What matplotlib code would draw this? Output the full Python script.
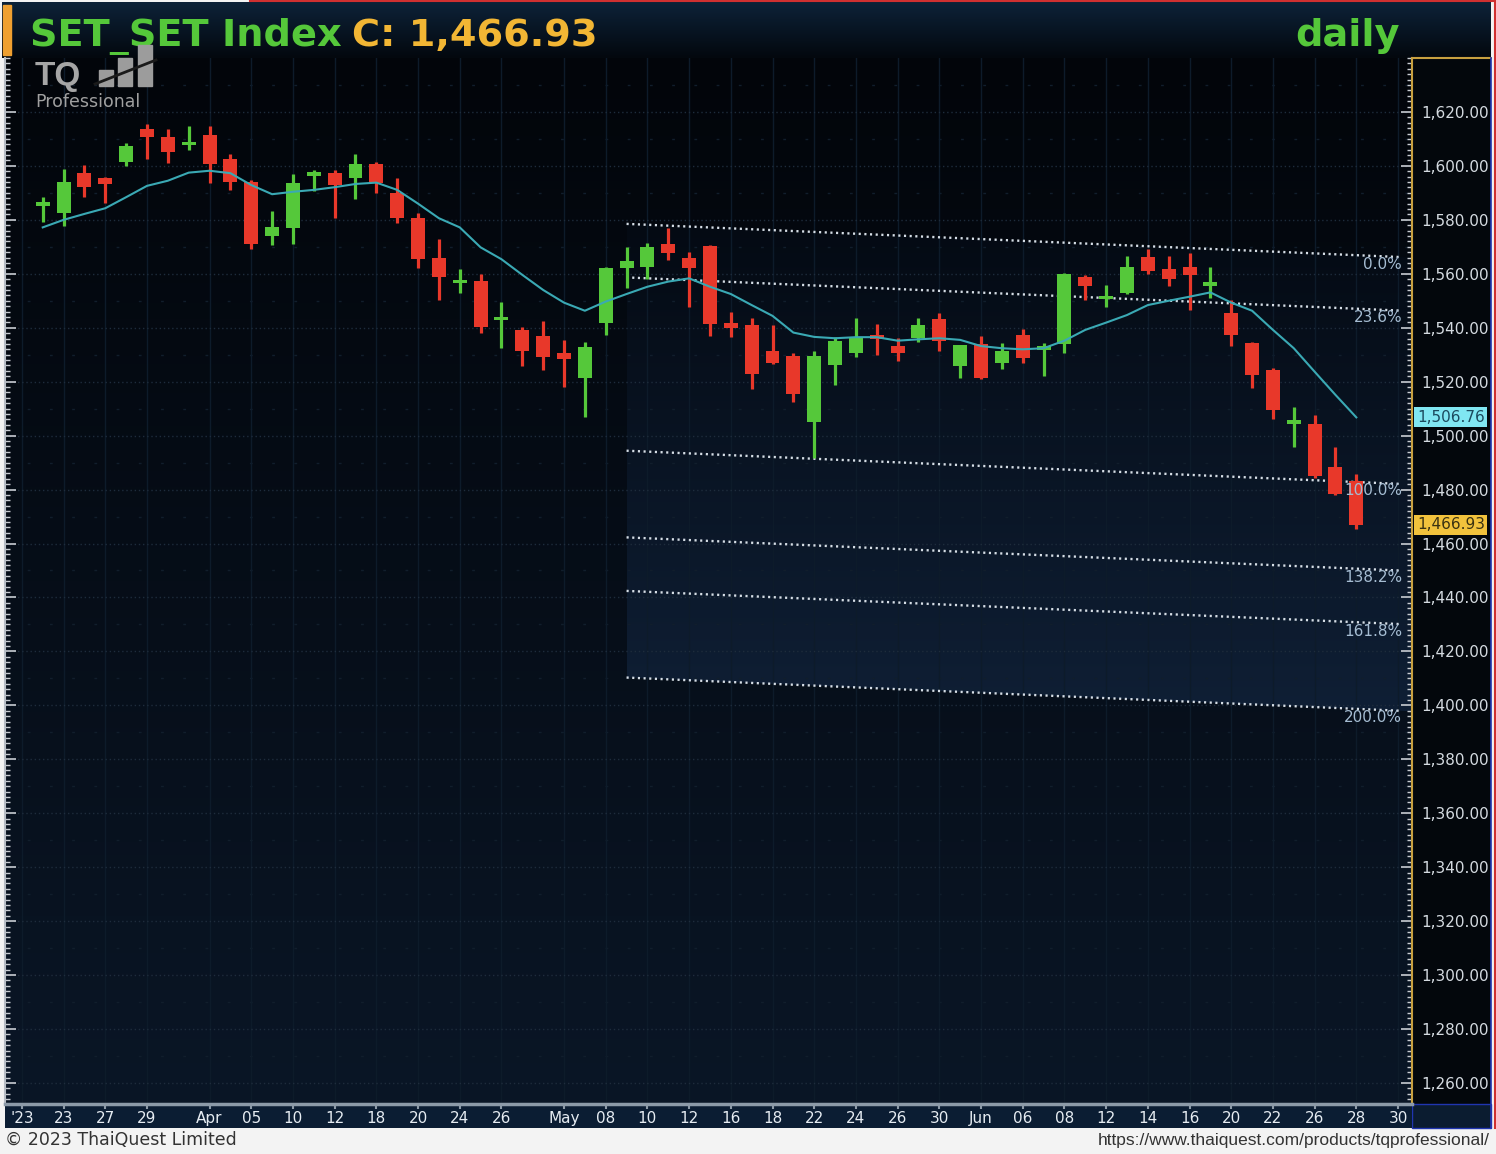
import matplotlib
matplotlib.use('Agg')
import matplotlib.pyplot as plt
import matplotlib.transforms as mtransforms
from matplotlib.colors import LinearSegmentedColormap
from matplotlib.patches import Rectangle, Polygon
from matplotlib.lines import Line2D
from matplotlib.ticker import MultipleLocator, StrMethodFormatter
import numpy as np

# daily OHLC, 22 Mar - 28 Jun 2023
opens = [1585.3, 1582.7, 1597.3, 1595.4, 1601.6, 1613.6, 1610.8, 1607.8, 1611.5, 1602.5,
         1594.2, 1574.0, 1576.9, 1596.4, 1597.3, 1595.5, 1600.6, 1589.9, 1580.6, 1565.8,
         1556.5, 1557.4, 1542.9, 1539.2, 1536.9, 1530.5, 1521.3, 1541.9, 1562.0, 1562.6,
         1571.1, 1565.8, 1570.3, 1541.7, 1541.0, 1531.5, 1529.5, 1505.2, 1526.2, 1530.8,
         1537.3, 1533.2, 1536.1, 1543.1, 1525.8, 1534.0, 1527.1, 1537.3, 1531.8, 1534.0,
         1558.7, 1550.6, 1553.0, 1566.1, 1561.7, 1562.6, 1555.3, 1545.6, 1534.5, 1524.3,
         1504.3, 1504.3, 1488.3, 1483.3]
highs = [1588.4, 1598.8, 1600.3, 1596.0, 1608.4, 1615.6, 1613.6, 1614.8, 1614.8, 1604.4,
         1594.8, 1583.4, 1597.0, 1598.5, 1598.5, 1604.4, 1601.6, 1595.5, 1582.4, 1572.8,
         1561.7, 1559.9, 1549.7, 1540.2, 1542.6, 1535.5, 1534.8, 1562.6, 1569.8, 1571.3,
         1576.9, 1568.2, 1570.7, 1546.0, 1543.5, 1541.0, 1530.5, 1531.2, 1536.7, 1543.5,
         1541.4, 1536.1, 1543.5, 1545.6, 1533.6, 1536.9, 1534.5, 1539.4, 1534.5, 1560.2,
         1559.6, 1555.9, 1566.6, 1569.1, 1566.6, 1567.8, 1562.6, 1550.3, 1534.8, 1525.0,
         1510.5, 1507.7, 1495.9, 1485.8]
lows = [1579.3, 1577.8, 1588.4, 1586.4, 1600.0, 1602.5, 1601.2, 1605.9, 1593.8, 1591.1,
        1569.1, 1570.7, 1571.1, 1590.8, 1580.6, 1587.6, 1589.9, 1579.0, 1562.1, 1550.1,
        1553.0, 1538.2, 1532.4, 1525.8, 1524.3, 1517.9, 1507.0, 1537.3, 1554.7, 1558.0,
        1565.1, 1547.8, 1536.9, 1536.5, 1517.2, 1526.5, 1512.6, 1491.6, 1518.8, 1529.3,
        1529.9, 1527.5, 1534.8, 1531.5, 1521.3, 1520.9, 1524.6, 1526.9, 1522.1, 1530.8,
        1550.1, 1547.6, 1552.6, 1559.9, 1555.5, 1546.6, 1551.0, 1533.2, 1517.6, 1506.1,
        1495.7, 1484.2, 1478.0, 1465.3]
closes = [1586.3, 1593.9, 1592.1, 1593.3, 1607.4, 1610.8, 1605.3, 1609.0, 1600.7, 1594.2,
          1571.1, 1577.5, 1593.8, 1597.5, 1592.9, 1600.6, 1593.8, 1580.6, 1565.4, 1558.7,
          1557.7, 1540.4, 1544.1, 1531.5, 1529.3, 1528.3, 1533.0, 1562.0, 1564.9, 1569.8,
          1567.6, 1562.0, 1541.4, 1539.8, 1522.9, 1526.9, 1515.5, 1529.5, 1535.2, 1536.5,
          1535.7, 1530.8, 1541.0, 1535.2, 1533.6, 1521.3, 1531.2, 1528.7, 1533.2, 1559.9,
          1555.3, 1551.8, 1562.6, 1561.2, 1558.0, 1559.6, 1557.1, 1537.3, 1522.5, 1509.5,
          1505.8, 1485.0, 1478.4, 1466.93]
# moving average line as drawn
ma = [1577.2, 1580.0, 1582.2, 1584.3, 1588.4, 1592.6, 1594.5, 1597.5, 1598.2, 1597.3,
      1592.9, 1589.5, 1590.4, 1591.1, 1592.1, 1593.3, 1593.8, 1591.1, 1586.0, 1580.6,
      1577.2, 1569.8, 1565.4, 1559.6, 1554.0, 1549.3, 1546.3, 1549.7, 1552.5, 1555.2,
      1557.1, 1558.3, 1555.2, 1552.5, 1548.4, 1544.4, 1538.2, 1536.6, 1536.1, 1536.5,
      1536.5, 1535.2, 1535.7, 1536.1, 1535.5, 1533.2, 1532.4, 1532.0, 1532.4, 1535.2,
      1539.2, 1541.9, 1544.7, 1548.4, 1550.0, 1551.5, 1553.1, 1549.3, 1546.3, 1539.2,
      1532.4, 1523.7, 1515.1, 1506.76]

tick_pos = [-1, 1, 3, 5, 8, 10, 12, 14, 16, 18, 20, 22, 25, 27, 29, 31, 33, 35, 37, 39,
            41, 43, 45, 47, 49, 51, 53, 55, 57, 59, 61, 63, 65]
tick_labels = ["'23", "23", "27", "29", "Apr", "05", "10", "12", "18", "20", "24", "26",
               "May", "08", "10", "12", "16", "18", "22", "24", "26", "30", "Jun", "06",
               "08", "12", "14", "16", "20", "22", "26", "28", "30"]

# fibonacci channel anchors (0% and 100% lines, start / end)
fib_x = [28, 65.1]
fib_top = [1578.5, 1566.2]
fib_bot = [1494.4, 1482.1]
fib_levels = [0.0, 23.6, 100.0, 138.2, 161.8, 200.0]

last_close = 1466.93
last_ma = 1506.76

W, H = 1496, 1154
def fx(px):
    return px / W
def fy(py):
    return 1 - py / H

fig = plt.figure(figsize=(W / 100, H / 100), dpi=100)
fig.patch.set_facecolor('#f3f3f3')

green = '#55c83a'
red = '#e8382a'

# title bar
tb = fig.add_axes([fx(2), fy(58), fx(1491) - fx(2), 56 / H])
tb.imshow(np.linspace(0, 1, 64).reshape(-1, 1), aspect='auto', extent=[0, 1, 0, 1],
          cmap=LinearSegmentedColormap.from_list('tb', ['#0d2238', '#03080e']))
tb.set_axis_off()
fig.add_artist(Rectangle((fx(3), fy(55)), fx(8), 50 / H, transform=fig.transFigure,
                         color='#f0a030', zorder=3))
fig.add_artist(Line2D([fx(250), 1], [fy(1), fy(1)], transform=fig.transFigure,
                      color='#d03030', lw=1.5))
fig.add_artist(Line2D([fx(1495), fx(1495)], [fy(0), fy(1128)], transform=fig.transFigure,
                      color='#d03030', lw=1.5))

fig.text(fx(30), fy(46), 'SET_SET Index', fontsize=27.5, weight='bold',
         family='DejaVu Sans', color='#55c83a', va='baseline', zorder=5)
fig.text(fx(352), fy(46), 'C: 1,466.93', fontsize=27.5, weight='bold',
         family='DejaVu Sans', color='#f2b634', va='baseline', zorder=5)
fig.text(fx(1400), fy(46), 'daily', fontsize=27.5, weight='bold', ha='right',
         family='DejaVu Sans', color='#55c83a', va='baseline', zorder=5)

# right price panel background
fig.add_artist(Rectangle((fx(1412), fy(1104)), fx(1491) - fx(1412), (1104 - 58) / H,
                         transform=fig.transFigure, facecolor='#03070c',
                         edgecolor='none', zorder=-1))
fig.add_artist(Rectangle((fx(1412), fy(1128)), fx(1491) - fx(1412), 24 / H,
                         transform=fig.transFigure, facecolor='#0b1c30',
                         edgecolor='#2035b0', lw=1, zorder=-1))
fig.add_artist(Line2D([fx(1412), fx(1491)], [fy(58), fy(58)], transform=fig.transFigure,
                      color='#c8a040', lw=1.5, zorder=6))
fig.add_artist(Line2D([fx(1491), fx(1491)], [fy(58), fy(1128)], transform=fig.transFigure,
                      color='#2035b0', lw=1.2, zorder=6))

# main price axes
ax = fig.add_axes([fx(5), fy(1104), fx(1412) - fx(5), (1104 - 58) / H])
ax.imshow(np.linspace(0, 1, 256).reshape(-1, 1), aspect='auto', extent=[0, 1, 0, 1],
          transform=ax.transAxes, zorder=0,
          cmap=LinearSegmentedColormap.from_list('bg', ['#02050a', '#0a1626']))

x = np.arange(len(closes))

# fibonacci channel
xmax = 65.75
slope_t = (fib_top[1] - fib_top[0]) / (fib_x[1] - fib_x[0])
slope_b = (fib_bot[1] - fib_bot[0]) / (fib_x[1] - fib_x[0])
def top_at(xx):
    return fib_top[0] + slope_t * (xx - fib_x[0])
def bot_at(xx):
    return fib_bot[0] + slope_b * (xx - fib_x[0])
def level_at(lvl, xx):
    return top_at(xx) - lvl / 100.0 * (top_at(xx) - bot_at(xx))

shade = Polygon([(fib_x[0], top_at(fib_x[0])), (xmax, top_at(xmax)),
                 (xmax, level_at(200, xmax)), (fib_x[0], level_at(200, fib_x[0]))],
                closed=True, transform=ax.transData)
im = ax.imshow(np.linspace(0, 1, 256).reshape(-1, 1), aspect='auto',
               extent=[fib_x[0], xmax, level_at(200, xmax), top_at(fib_x[0])],
               cmap=LinearSegmentedColormap.from_list('sh', ['#040a13', '#0f1f35']),
               zorder=0.5)
im.set_clip_path(shade)

for lvl in fib_levels:
    ax.plot(fib_x, [level_at(lvl, fib_x[0]), level_at(lvl, fib_x[1])],
            color='#d6dee6', lw=1.7, linestyle=(0, (0.9, 1.5)), zorder=2)
    ax.annotate('%.1f%%' % lvl, xy=(65.2, level_at(lvl, fib_x[1])), xytext=(0, -7),
                textcoords='offset pixels', ha='right', va='center', fontsize=11,
                color='#a5bcd2', zorder=6)

# candles
for i in x:
    col = green if closes[i] >= opens[i] else red
    ax.vlines(i, lows[i], highs[i], color=col, lw=2.3, zorder=4)
    lo = min(opens[i], closes[i])
    h = max(abs(closes[i] - opens[i]), 1.2)
    ax.bar(i, h, bottom=lo, width=0.67, color=col, edgecolor='none', zorder=4)

ax.plot(x, ma, color='#3aa9b4', lw=1.5, zorder=5)

# axes styling
ax.set_xlim(-1.81, 65.67)
ax.set_ylim(1252.2, 1640.0)
ax.set_xticks(tick_pos)
ax.tick_params(axis='x', length=0, labelbottom=False)
ax.grid(axis='x', color='#0d1b2a', lw=1)
ax.set_yticks(np.arange(1260, 1621, 20))
ax.yaxis.set_minor_locator(MultipleLocator(2))
ax.yaxis.set_major_formatter(StrMethodFormatter('{x:,.2f}'))
ax.yaxis.tick_right()
ax.tick_params(axis='y', which='both', left=True, right=True, direction='in',
               color='#c8ccd2', labelleft=False, labelright=True)
ax.tick_params(axis='y', which='major', length=8, width=1.2, pad=7, labelsize=11,
               labelcolor='#d4dae0')
ax.tick_params(axis='y', which='minor', length=3.5, width=1)
ax.grid(axis='y', which='major', color='#1e2c3c', lw=1, linestyle=(0, (1, 2)))
ax.hlines(np.arange(1270, 1640, 20), -1.81, 65.67, color='#111e2c', lw=1,
          linestyle=(0, (2, 14)), zorder=0.6)
for s in ['top', 'bottom']:
    ax.spines[s].set_visible(False)
ax.spines['right'].set_color('#c8a040')
ax.spines['right'].set_linewidth(1.5)
ax.spines['left'].set_color('#b8bec6')
ax.spines['left'].set_linewidth(1.5)

lab = mtransforms.blended_transform_factory(ax.transAxes, ax.transData)
ax.text(1.0035, last_ma, '1,506.76', transform=lab, fontsize=11, color='#1c4a5e',
        va='center', ha='left', zorder=7,
        bbox=dict(facecolor='#80e6f2', edgecolor='none', pad=1.8))
ax.text(1.0035, last_close, '1,466.93', transform=lab, fontsize=11, color='#3a3212',
        va='center', ha='left', zorder=7,
        bbox=dict(facecolor='#f2c23c', edgecolor='none', pad=1.8))

# date bar
bar = fig.add_axes([fx(5), fy(1128), fx(1412) - fx(5), 24 / H], sharex=ax)
bar.set_facecolor('#0b1d33')
bar.set_yticks([])
bar.set_xticks(tick_pos, labels=tick_labels)
bar.tick_params(axis='x', length=0, pad=-12, labelsize=11, labelcolor='#e6ecf2')
bar.vlines(tick_pos, 0.8, 1.0, transform=bar.get_xaxis_transform(), color='#8c9aa8', lw=1.5)
for s in ['left', 'right', 'bottom']:
    bar.spines[s].set_visible(False)
bar.spines['top'].set_color('#8c9aa8')
bar.spines['top'].set_linewidth(2.5)
bar.set_xlim(-1.81, 65.67)

# logo
fig.text(fx(35), fy(85), 'TQ', fontsize=24, weight='bold', family='Liberation Sans',
         color='#a6a6a6', va='baseline', zorder=6)
for bx, btop in [(99, 70), (118, 58), (138, 45)]:
    fig.add_artist(Rectangle((fx(bx), fy(86)), 14 / W, (86 - btop) / H,
                             transform=fig.transFigure, color='#9c9c9c', zorder=6))
fig.add_artist(Line2D([fx(95), fx(156)], [fy(84), fy(60)], transform=fig.transFigure,
                      color='#1a1a1a', lw=2, zorder=7))
fig.text(fx(35), fy(107), 'Professional', fontsize=12.5, family='DejaVu Sans',
         color='#a0a0a0', va='baseline', zorder=6)

# footer
fig.text(fx(5), fy(1140), '\u00a9 2023 ThaiQuest Limited', fontsize=12.5,
         color='#333333', va='center')
fig.text(fx(1490), fy(1140), 'https://www.thaiquest.com/products/tqprofessional/',
         fontsize=12.5, family='Liberation Sans', color='#333333', va='center', ha='right')

fig.savefig('out.png', dpi=100, facecolor=fig.get_facecolor())
